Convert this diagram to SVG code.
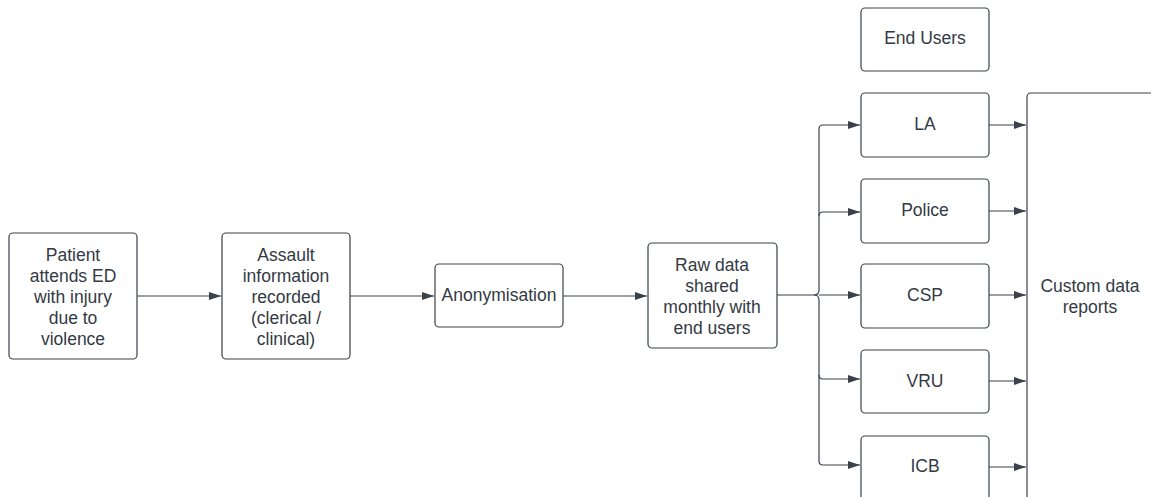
<svg xmlns="http://www.w3.org/2000/svg" width="1151" height="497" viewBox="0 0 1151 497">
  <defs>
    <marker id="arr" markerWidth="12" markerHeight="8" refX="12" refY="4" orient="auto" markerUnits="userSpaceOnUse">
      <path d="M0,0 L12,4 L0,8 Z" fill="#3a414a"/>
    </marker>
    <style>
      .box { fill: #ffffff; stroke: #3a414a; stroke-width: 1.2; }
      .lbl { font-family: "Liberation Sans", Arial, sans-serif; font-size: 17.5px; fill: #333a44; text-anchor: middle; }
      .edge { fill: none; stroke: #3a414a; stroke-width: 1.2; }
    </style>
  </defs>
  <rect width="1151" height="497" fill="#ffffff"/>

  <g id="connectors">
    <path class="edge" d="M137,296 H221" marker-end="url(#arr)"/>
    <path class="edge" d="M350,296 H434" marker-end="url(#arr)"/>
    <path class="edge" d="M563,296 H647" marker-end="url(#arr)"/>
    <!-- distribution trunk -->
    <path class="edge" d="M777,295 H814 Q819,295 819,290 V129 Q819,125 823,125 H860" marker-end="url(#arr)"/>
    <path class="edge" d="M819,216 Q819,212 823,212 H860" marker-end="url(#arr)"/>
    <path class="edge" d="M814,295 Q819,295 819,300 V461 Q819,465 823,465 H860" marker-end="url(#arr)"/>
    <path class="edge" d="M819,295 H860" marker-end="url(#arr)"/>
    <path class="edge" d="M819,375 Q819,379 823,379 H860" marker-end="url(#arr)"/>
    <!-- into reports -->
    <path class="edge" d="M989,125 H1026" marker-end="url(#arr)"/>
    <path class="edge" d="M989,211 H1026" marker-end="url(#arr)"/>
    <path class="edge" d="M989,295 H1026" marker-end="url(#arr)"/>
    <path class="edge" d="M989,381 H1026" marker-end="url(#arr)"/>
    <path class="edge" d="M989,467 H1026" marker-end="url(#arr)"/>
  </g>

  <g id="patient">
    <rect class="box" x="9" y="233" width="128" height="126" rx="4"/>
    <text class="lbl" x="73" y="261">Patient</text>
    <text class="lbl" x="73" y="282">attends ED</text>
    <text class="lbl" x="73" y="303">with injury</text>
    <text class="lbl" x="73" y="324">due to</text>
    <text class="lbl" x="73" y="345">violence</text>
  </g>

  <g id="assault">
    <rect class="box" x="222" y="233" width="128" height="126" rx="4"/>
    <text class="lbl" x="286" y="261">Assault</text>
    <text class="lbl" x="286" y="282">information</text>
    <text class="lbl" x="286" y="303">recorded</text>
    <text class="lbl" x="286" y="324">(clerical /</text>
    <text class="lbl" x="286" y="345">clinical)</text>
  </g>

  <g id="anonymisation">
    <rect class="box" x="435" y="264" width="128" height="63" rx="4"/>
    <text class="lbl" x="499" y="301">Anonymisation</text>
  </g>

  <g id="rawdata">
    <rect class="box" x="648" y="243" width="129" height="105" rx="4"/>
    <text class="lbl" x="712" y="271">Raw data</text>
    <text class="lbl" x="712" y="292">shared</text>
    <text class="lbl" x="712" y="313">monthly with</text>
    <text class="lbl" x="712" y="334">end users</text>
  </g>

  <g id="endusers">
    <rect class="box" x="861" y="8" width="128" height="63" rx="4"/>
    <text class="lbl" x="925" y="44">End Users</text>
  </g>

  <g id="la">
    <rect class="box" x="861" y="93" width="128" height="64" rx="4"/>
    <text class="lbl" x="925" y="130">LA</text>
  </g>

  <g id="police">
    <rect class="box" x="861" y="179" width="128" height="64" rx="4"/>
    <text class="lbl" x="925" y="216">Police</text>
  </g>

  <g id="csp">
    <rect class="box" x="861" y="264" width="128" height="64" rx="4"/>
    <text class="lbl" x="925" y="301">CSP</text>
  </g>

  <g id="vru">
    <rect class="box" x="861" y="350" width="128" height="63" rx="4"/>
    <text class="lbl" x="925" y="387">VRU</text>
  </g>

  <g id="icb">
    <rect class="box" x="861" y="436" width="128" height="64" rx="4"/>
    <text class="lbl" x="925" y="472">ICB</text>
  </g>

  <g id="reports">
    <rect class="box" x="1027" y="93" width="200" height="420" rx="4"/>
    <text class="lbl" x="1090" y="292">Custom data</text>
    <text class="lbl" x="1090" y="313">reports</text>
  </g>
</svg>
